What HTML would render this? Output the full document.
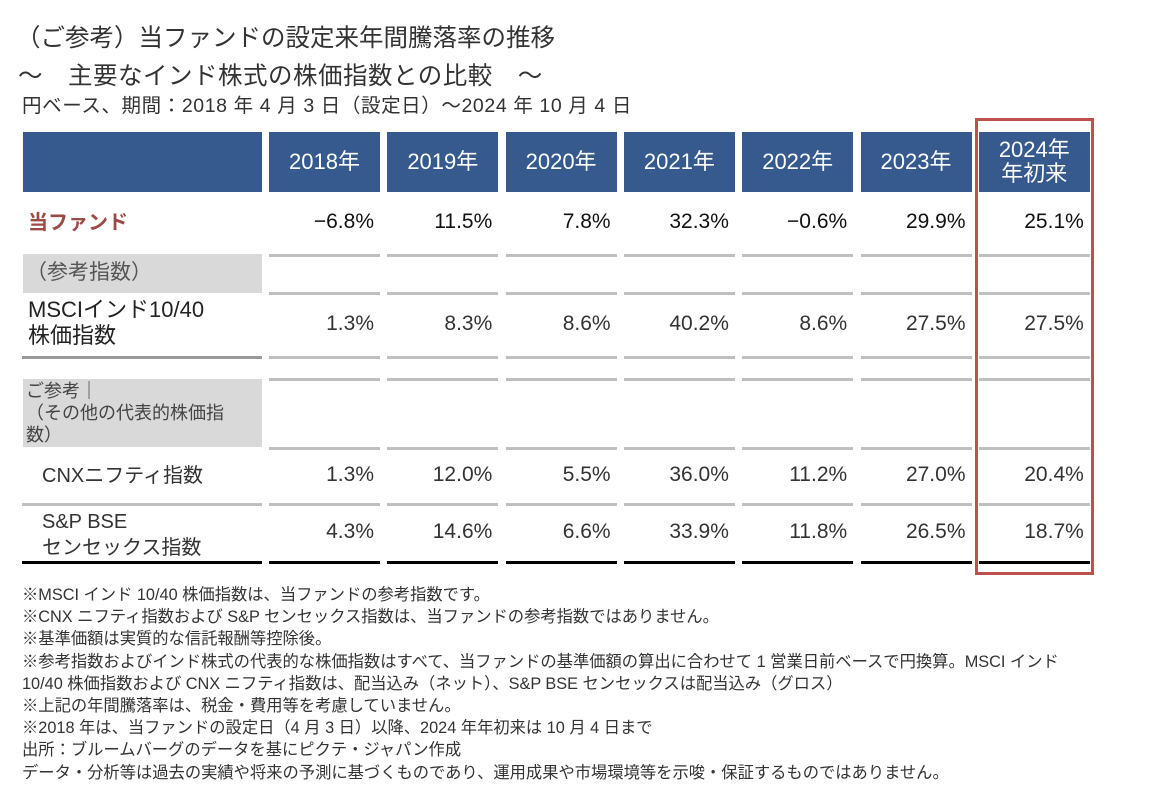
<!DOCTYPE html>
<html><head><meta charset="utf-8"><style>
body{margin:0;width:1171px;height:805px;background:#fff;position:relative;overflow:hidden;font-family:"Liberation Sans","Noto Sans CJK JP",sans-serif;color:#333}
.a{position:absolute;white-space:nowrap}
.hd{position:absolute;background:#365a8e;color:#fff;font-size:22px;display:flex;align-items:center;justify-content:center;text-align:center;line-height:24px}
.ln{position:absolute;height:3px;background:#bfbfbf}
.v{position:absolute;font-size:21px;text-align:right;width:105px}
.lab{position:absolute;font-size:20px;line-height:26px;color:#333}
.gb{position:absolute;background:#d9d9d9}
.note{position:absolute;left:22px;font-size:16.3px;color:#333;white-space:nowrap}
</style></head><body>
<div class="a" style="left:16px;top:19px;font-size:24.5px;color:#333">（ご参考）当ファンドの設定来年間騰落率の推移</div>
<div class="a" style="left:18px;top:57px;font-size:24.5px;color:#333;letter-spacing:0.5px">～　主要なインド株式の株価指数との比較　～</div>
<div class="a" style="left:22px;top:89px;font-size:19.5px;color:#333;letter-spacing:0.6px">円ベース、期間：2018 年 4 月 3 日（設定日）～2024 年 10 月 4 日</div>

<div class="hd" style="left:23px;top:132px;width:239px;height:60px"></div>
<div id="tbl"></div>

<div class="lab" style="left:28px;top:210px;color:#9b4a46;font-weight:bold">当ファンド</div>
<div class="gb" style="left:23px;top:254px;width:239px;height:39px"></div>
<div class="lab" style="left:26px;top:260px;color:#555;font-size:21px">（参考指数）</div>
<div class="lab" style="left:28px;top:297px;color:#222;font-size:22px">MSCIインド10/40<br>株価指数</div>
<div class="ln" style="left:22px;top:356px;width:240px;background:#999"></div>
<div class="gb" style="left:23px;top:379px;width:239px;height:68px"></div>
<div class="lab" style="left:26px;top:380px;font-size:18px;line-height:22px;color:#444">ご参考｜<br>（その他の代表的株価指<br>数）</div>
<div class="lab" style="left:42px;top:463px">CNXニフティ指数</div>
<div class="ln" style="left:22px;top:503px;width:240px"></div>
<div class="lab" style="left:42px;top:509px">S&amp;P BSE<br>センセックス指数</div>
<div class="ln" style="left:22px;top:561px;width:240px;background:#000;height:3px"></div>

<div class="a" style="left:975px;top:118px;width:113px;height:451px;border:3px solid #c0504d"></div>

<div>
<div class="note" style="top:581px">※MSCI インド 10/40 株価指数は、当ファンドの参考指数です。</div>
<div class="note" style="top:603px">※CNX ニフティ指数および S&amp;P センセックス指数は、当ファンドの参考指数ではありません。</div>
<div class="note" style="top:625px">※基準価額は実質的な信託報酬等控除後。</div>
<div class="note" style="top:648px">※参考指数およびインド株式の代表的な株価指数はすべて、当ファンドの基準価額の算出に合わせて 1 営業日前ベースで円換算。MSCI インド</div>
<div class="note" style="top:670px">10/40 株価指数および CNX ニフティ指数は、配当込み（ネット）、S&amp;P BSE センセックスは配当込み（グロス）</div>
<div class="note" style="top:692px">※上記の年間騰落率は、税金・費用等を考慮していません。</div>
<div class="note" style="top:714px">※2018 年は、当ファンドの設定日（4 月 3 日）以降、2024 年年初来は 10 月 4 日まで</div>
<div class="note" style="top:736px">出所：ブルームバーグのデータを基にピクテ・ジャパン作成</div>
<div class="note" style="top:759px">データ・分析等は過去の実績や将来の予測に基づくものであり、運用成果や市場環境等を示唆・保証するものではありません。</div>
</div>

<script>
const periods = ["2018年","2019年","2020年","2021年","2022年","2023年","2024年<br>年初来"];
const fundValues = [-6.8, 11.5, 7.8, 32.3, -0.6, 29.9, 25.1];
const msciValues = [1.3, 8.3, 8.6, 40.2, 8.6, 27.5, 27.5];
const cnxValues = [1.3, 12.0, 5.5, 36.0, 11.2, 27.0, 20.4];
const bseValues = [4.3, 14.6, 6.6, 33.9, 11.8, 26.5, 18.7];

const tbl = document.getElementById('tbl');
const colLeft = i => 269 + i * 118.3;
const colW = 111;
function fmt(v){ return (v < 0 ? '−' + Math.abs(v).toFixed(1) : v.toFixed(1)) + '%'; }
function add(cls, style, html){
  const d = document.createElement('div');
  d.className = cls; d.style.cssText = style; if (html !== undefined) d.innerHTML = html;
  tbl.appendChild(d); return d;
}
const rules = [254, 292, 356, 378, 447, 503];
periods.forEach((p, i) => {
  const x = colLeft(i);
  const h = add('hd', `left:${x}px;top:132px;width:${colW}px;height:60px`, p);
  
  
  rules.forEach(y => {
    const l = add('ln', `left:${x}px;top:${y}px;width:${colW}px`);
    
    
  });
  const b = add('ln', `left:${x}px;top:561px;width:${colW}px;background:#000`);
  
  
  const f = add('v', `left:${x}px;top:210px;color:#111`, fmt(fundValues[i]));
  
  
  const m = add('v', `left:${x}px;top:312px`, fmt(msciValues[i]));
  
  
  const c = add('v', `left:${x}px;top:463px`, fmt(cnxValues[i]));
  
  
  const s = add('v', `left:${x}px;top:520px`, fmt(bseValues[i]));
  
  
});
</script>
</body></html>
